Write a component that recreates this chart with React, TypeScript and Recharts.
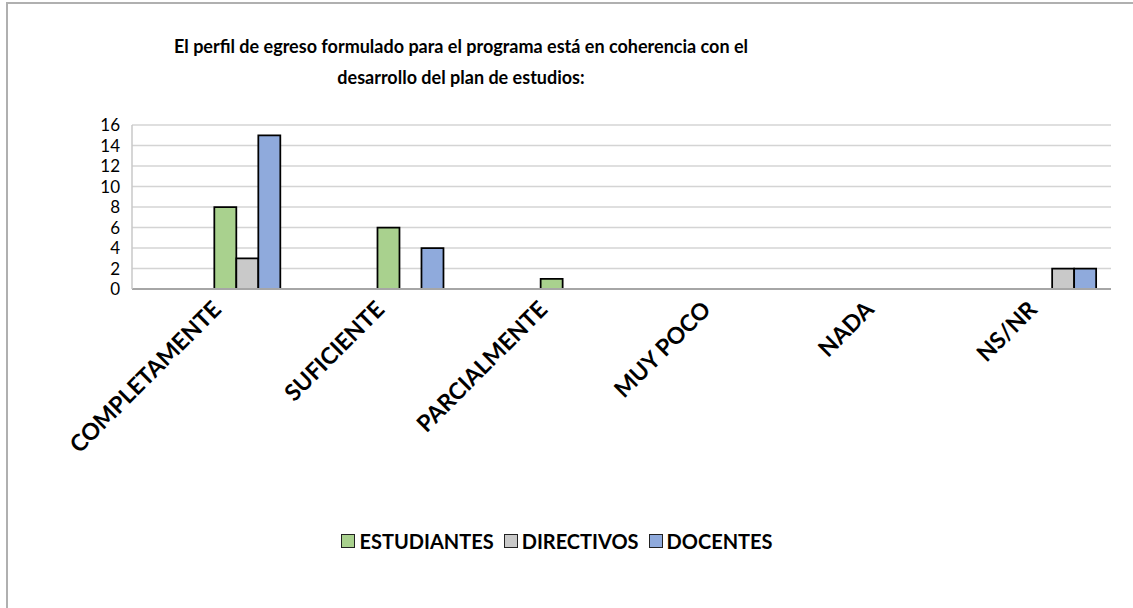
import React from 'react';
import { BarChart, Bar, XAxis, YAxis, CartesianGrid } from 'recharts';

const categories = ['COMPLETAMENTE', 'SUFICIENTE', 'PARCIALMENTE', 'MUY POCO', 'NADA', 'NS/NR'];
const estudiantes = [8, 6, 1, 0, 0, 0];
const directivos = [3, 0, 0, 0, 0, 2];
const docentes = [15, 4, 0, 0, 0, 2];
const yTicks = [0, 2, 4, 6, 8, 10, 12, 14, 16];
const seriesNames = ['ESTUDIANTES', 'DIRECTIVOS', 'DOCENTES'];
const seriesColors = ['#a9d18e', '#c9c9c9', '#8faadc'];
const titleLines = [
  'El perfil de egreso formulado para el programa está en coherencia con el',
  'desarrollo del plan de estudios:',
];

const data = categories.map((c, i) => ({
  cat: c,
  est: estudiantes[i],
  dir: directivos[i],
  doc: docentes[i],
}));

const FONT = 'Lato, "Open Sans", sans-serif';

const XTick = (props: any) => {
  const { x, y, payload } = props;
  return (
    <g transform={`translate(${x + 9},${y + 22})`}>
      <text
        textAnchor="end"
        transform="rotate(-45)"
        fontFamily={FONT}
        fontWeight={700}
        fontSize={23}
        fill="#000"
      >
        {payload.value}
      </text>
    </g>
  );
};

const YTick = (props: any) => {
  const { x, y, payload } = props;
  return (
    <text x={x} y={y} dy={6} textAnchor="end" fontFamily={FONT} fontSize={17} fill="#000">
      {payload.value}
    </text>
  );
};

export default function App() {
  return (
    <div style={{ position: 'absolute', left: 0, top: 0, width: 1133, height: 608, background: '#fff', overflow: 'hidden' }}>
      <div
        style={{
          position: 'absolute',
          left: 6,
          top: 2,
          width: 1200,
          height: 700,
          borderLeft: '2px solid #b0b0b0',
          borderTop: '2px solid #b0b0b0',
        }}
      />
      <div
        style={{
          position: 'absolute',
          left: 111,
          width: 700,
          top: 31,
          textAlign: 'center',
          fontFamily: FONT,
          fontWeight: 700,
          fontSize: 18,
          lineHeight: '31px',
          color: '#000',
        }}
      >
        {titleLines.map((l, i) => (
          <div key={i}>{l}</div>
        ))}
      </div>
      <div style={{ position: 'absolute', left: 0, top: 0 }}>
        <BarChart
          width={1133}
          height={608}
          data={data}
          margin={{ top: 125, right: 22, left: 92, bottom: 0 }}
          barCategoryGap="10%"
          barGap={0}
        >
          <CartesianGrid vertical={false} stroke="#d4d4d4" strokeWidth={1.5} />
          <XAxis
            dataKey="cat"
            interval={0}
            height={319}
            tickLine={false}
            tickSize={0}
            tickMargin={0}
            axisLine={{ stroke: '#a6a6a6', strokeWidth: 2 }}
            tick={<XTick />}
          />
          <YAxis
            width={40}
            domain={[0, 16]}
            ticks={yTicks}
            interval={0}
            tickLine={false}
            tickSize={0}
            tickMargin={12}
            axisLine={{ stroke: '#c8c8c8', strokeWidth: 1.5 }}
            tick={<YTick />}
          />
          <Bar dataKey="pad1" isAnimationActive={false} legendType="none" />
          <Bar dataKey="pad2" isAnimationActive={false} legendType="none" />
          <Bar dataKey="pad3" isAnimationActive={false} legendType="none" />
          <Bar dataKey="est" name={seriesNames[0]} fill={seriesColors[0]} stroke="#000" strokeWidth={1.75} isAnimationActive={false} />
          <Bar dataKey="dir" name={seriesNames[1]} fill={seriesColors[1]} stroke="#000" strokeWidth={1.75} isAnimationActive={false} />
          <Bar dataKey="doc" name={seriesNames[2]} fill={seriesColors[2]} stroke="#000" strokeWidth={1.75} isAnimationActive={false} />
        </BarChart>
      </div>
      <div
        style={{
          position: 'absolute',
          left: 0,
          width: 1114,
          top: 529,
          display: 'flex',
          justifyContent: 'center',
          alignItems: 'center',
          gap: 10,
          fontFamily: FONT,
          fontWeight: 700,
          fontSize: 20,
          color: '#000',
        }}
      >
        {seriesNames.map((n, i) => (
          <div key={n} style={{ display: 'flex', alignItems: 'center' }}>
            <span
              style={{
                display: 'inline-block',
                width: 12,
                height: 12,
                background: seriesColors[i],
                border: '1.5px solid #222',
                marginRight: 4,
              }}
            />
            <span>{n}</span>
          </div>
        ))}
      </div>
    </div>
  );
}
